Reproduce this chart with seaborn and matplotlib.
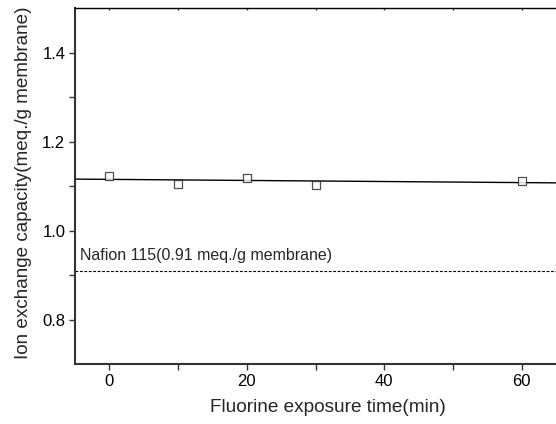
import matplotlib
matplotlib.use('Agg')
import matplotlib.pyplot as plt
import seaborn as sns
import pandas as pd

# exposure time (min) and measured ion exchange capacity (meq./g membrane)
exposure_time = [0, 10, 20, 30, 60]
ion_exchange = [1.123, 1.106, 1.119, 1.104, 1.112]
nafion_ref = 0.91
nafion_label = 'Nafion 115(0.91 meq./g membrane)'

x_ticks = [0, 20, 40, 60]
x_minor = [10, 30, 50]
y_ticks = [0.8, 1.0, 1.2, 1.4]
y_minor = [0.9, 1.1, 1.3]


def plot_ion_exchange(df):
    fig = plt.figure(figsize=(5.56, 4.24), dpi=100)
    ax = fig.add_axes([0.135, 0.141, 0.865, 0.839])
    # limits first so the fitted line spans the whole axis
    ax.set_xlim(-5, 65)
    ax.set_ylim(0.7, 1.5)

    sns.regplot(data=df, x='time', y='iec', ax=ax, ci=None, truncate=False,
                marker='s',
                scatter_kws={'s': 30, 'facecolors': 'white', 'edgecolors': '#222222',
                             'linewidths': 0.9, 'zorder': 3},
                line_kws={'color': 'black', 'linewidth': 1.0})
    ax.set_xlim(-5, 65)
    ax.set_ylim(0.7, 1.5)

    ax.axhline(nafion_ref, color='black', linestyle=(0, (2.5, 1.5)), linewidth=0.8)
    ax.text(-4.3, nafion_ref + 0.018, nafion_label, fontsize=11.5, ha='left', va='bottom')

    ax.set_xticks(x_ticks)
    ax.set_xticks(x_minor, minor=True)
    ax.set_yticks(y_ticks)
    ax.set_yticks(y_minor, minor=True)
    ax.set_xticklabels([str(t) for t in x_ticks])
    ax.set_yticklabels([f'{t:.1f}' for t in y_ticks])

    ax.tick_params(which='both', direction='out', length=4, width=1, colors='#333333',
                   labelcolor='black', labelsize=12, pad=3)
    # faint inward ticks along the top edge
    ax.tick_params(axis='x', which='both', top=True, labeltop=False)
    for t in ax.xaxis.get_major_ticks() + ax.xaxis.get_minor_ticks():
        t.tick2line.set_markersize(1.5)
        t.tick2line.set_marker(3)
        t.tick2line.set_color('#666666')

    ax.spines['right'].set_visible(False)
    ax.spines['top'].set_color('black')
    ax.spines['top'].set_linewidth(1.0)
    for side in ['left', 'bottom']:
        ax.spines[side].set_color('#333333')
        ax.spines[side].set_linewidth(1.5)

    ax.set_xlabel('Fluorine exposure time(min)', fontsize=13.7)
    ax.set_ylabel('Ion exchange capacity(meq./g membrane)', fontsize=13.6)
    ax.xaxis.set_label_coords(0.526, -0.097)
    ax.yaxis.set_label_coords(-0.089, 0.51)

    fig.savefig('out.png', dpi=100)


if __name__ == '__main__':
    sns.set_style('ticks')
    plt.rcParams['font.family'] = ['Liberation Sans', 'DejaVu Sans']
    data = pd.DataFrame({'time': exposure_time, 'iec': ion_exchange})
    plot_ion_exchange(data)
